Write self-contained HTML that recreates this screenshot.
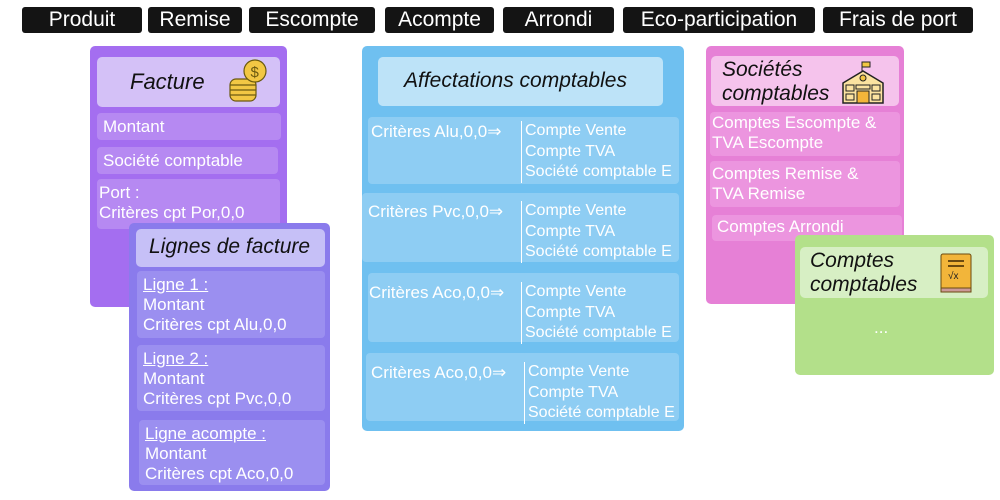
<!DOCTYPE html>
<html><head><meta charset="utf-8"><style>
body{margin:0;width:1000px;height:500px;background:#fff;position:relative;overflow:hidden;font-family:"Liberation Sans",sans-serif}
.a{position:absolute;box-sizing:border-box}
.tag{background:#141414;color:#fff;font-size:21px;border-radius:3px;top:7px;height:26px;line-height:26px;text-align:center}
.box{border-radius:5px}
.hd{border-radius:5px;font-family:"Liberation Sans",sans-serif;font-style:italic;color:#111;font-size:22px;white-space:nowrap}
.r{border-radius:4px;color:#fff;font-size:17px;line-height:20px;padding:4px 6px;white-space:nowrap}
.u{text-decoration:underline}
.bl{font-family:"Liberation Sans",sans-serif;font-size:16px;line-height:20.5px;color:#fff;white-space:nowrap}
</style></head><body>
<div class="a tag" style="left:22px;width:120px">Produit</div>
<div class="a tag" style="left:148px;width:94px">Remise</div>
<div class="a tag" style="left:249px;width:126px">Escompte</div>
<div class="a tag" style="left:385px;width:109px">Acompte</div>
<div class="a tag" style="left:503px;width:111px">Arrondi</div>
<div class="a tag" style="left:623px;width:192px">Eco-participation</div>
<div class="a tag" style="left:823px;width:150px">Frais de port</div>

<div class="a box" style="left:90px;top:46px;width:197px;height:261px;background:#a46ef0"></div>
<div class="a hd" style="left:97px;top:57px;width:183px;height:50px;background:#d4c1f7;padding:12px 0 0 33px">Facture</div>
<svg class="a" style="left:226px;top:57px" width="44" height="48"><g fill="#f2c744" stroke="#6b5a10" stroke-width="1.2"><rect x="4" y="22" width="26" height="22" rx="6"/><line x1="4" y1="28" x2="30" y2="28"/><line x1="4" y1="33" x2="30" y2="33"/><line x1="4" y1="38" x2="30" y2="38"/><circle cx="29" cy="14" r="11"/></g><text x="24.5" y="20" font-size="15" fill="#6b5a10">$</text></svg>
<div class="a r" style="left:97px;top:113px;width:184px;height:27px;background:#b689f2">Montant</div>
<div class="a r" style="left:97px;top:147px;width:181px;height:27px;background:#b689f2">Société comptable</div>
<div class="a r" style="left:97px;top:179px;width:183px;height:50px;background:#b689f2;padding-left:2px">Port :<br>Critères cpt Por,0,0</div>

<div class="a box" style="left:129px;top:223px;width:201px;height:268px;background:#8a7bec"></div>
<div class="a hd" style="left:136px;top:229px;width:189px;height:38px;background:#c6c0f7;padding:6px 0 0 13px;font-size:21px">Lignes de facture</div>
<div class="a r" style="left:137px;top:271px;width:188px;height:67px;background:#9b8ff0"><span class="u">Ligne 1 :</span><br>Montant<br>Critères cpt Alu,0,0</div>
<div class="a r" style="left:137px;top:345px;width:188px;height:66px;background:#9b8ff0"><span class="u">Ligne 2 :</span><br>Montant<br>Critères cpt Pvc,0,0</div>
<div class="a r" style="left:139px;top:420px;width:186px;height:65px;background:#9b8ff0"><span class="u">Ligne acompte :</span><br>Montant<br>Critères cpt Aco,0,0</div>

<div class="a box" style="left:362px;top:46px;width:322px;height:385px;background:#6fc0f0"></div>
<div class="a hd" style="left:378px;top:57px;width:285px;height:49px;background:#bde3f8;padding:12px 0 0 26px;font-size:21px">Affectations comptables</div>
<div class="a r" style="left:368px;top:117px;width:311px;height:67px;background:#8ecdf3"></div>
<div class="a r" style="left:362px;top:193px;width:317px;height:69px;background:#8ecdf3"></div>
<div class="a r" style="left:368px;top:273px;width:311px;height:69px;background:#8ecdf3"></div>
<div class="a r" style="left:366px;top:353px;width:313px;height:68px;background:#8ecdf3"></div>
<div class="a" style="left:371px;top:122px;color:#fff;font-size:17px">Critères Alu,0,0⇒</div>
<div class="a bl" style="left:521px;top:121px;border-left:1.5px solid #fff;padding-left:3px">Compte Vente<br>Compte TVA<br>Société comptable E</div>
<div class="a" style="left:368px;top:202px;color:#fff;font-size:17px">Critères Pvc,0,0⇒</div>
<div class="a bl" style="left:521px;top:201px;border-left:1.5px solid #fff;padding-left:3px">Compte Vente<br>Compte TVA<br>Société comptable E</div>
<div class="a" style="left:369px;top:283px;color:#fff;font-size:17px">Critères Aco,0,0⇒</div>
<div class="a bl" style="left:521px;top:282px;border-left:1.5px solid #fff;padding-left:3px">Compte Vente<br>Compte TVA<br>Société comptable E</div>
<div class="a" style="left:371px;top:363px;color:#fff;font-size:17px">Critères Aco,0,0⇒</div>
<div class="a bl" style="left:524px;top:362px;border-left:1.5px solid #fff;padding-left:3px">Compte Vente<br>Compte TVA<br>Société comptable E</div>

<div class="a box" style="left:706px;top:46px;width:198px;height:258px;background:#e680d6"></div>
<div class="a hd" style="left:711px;top:56px;width:188px;height:50px;background:#f5c3ec;padding:2px 0 0 11px;font-size:21px;line-height:24px">Sociétés<br>comptables</div>
<svg class="a" style="left:841px;top:61px" width="44" height="44"><rect x="21" y="1" width="8" height="5" fill="#f2c744" stroke="#222"/><line x1="21" y1="1" x2="21" y2="11" stroke="#222"/><path d="M2 22 L22 10 L42 22 V42 H2 Z" fill="#fbe3a0" stroke="#222" stroke-width="1.5"/><circle cx="22" cy="17" r="3" fill="#f2c744" stroke="#222"/><rect x="5" y="24" width="8" height="6" fill="none" stroke="#222"/><rect x="31" y="24" width="8" height="6" fill="none" stroke="#222"/><rect x="5" y="33" width="8" height="6" fill="none" stroke="#222"/><rect x="31" y="33" width="8" height="6" fill="none" stroke="#222"/><rect x="16" y="30" width="12" height="12" fill="#f2b53a" stroke="#222"/><rect x="15" y="24" width="14" height="4" fill="none" stroke="#222"/></svg>
<div class="a r" style="left:710px;top:112px;width:190px;height:44px;background:#ec95df;padding:1px 2px">Comptes Escompte &amp;<br>TVA Escompte</div>
<div class="a r" style="left:710px;top:161px;width:190px;height:46px;background:#ec95df;padding:3px 2px">Comptes Remise &amp;<br>TVA Remise</div>
<div class="a r" style="left:712px;top:215px;width:190px;height:26px;background:#ec95df;padding:2px 5px">Comptes Arrondi</div>

<div class="a box" style="left:795px;top:235px;width:199px;height:140px;background:#b3e08a"></div>
<div class="a hd" style="left:800px;top:247px;width:188px;height:51px;background:#d7efc4;padding:2px 0 0 10px;font-size:21px;line-height:24px">Comptes<br>comptables</div>
<svg class="a" style="left:938px;top:252px" width="36" height="44"><rect x="3" y="2" width="30" height="36" rx="2" fill="#f2b53a" stroke="#6b4a10"/><rect x="3" y="36" width="30" height="4" fill="#c99" stroke="#6b4a10"/><line x1="10" y1="9" x2="26" y2="9" stroke="#6b4a10" stroke-width="2"/><line x1="10" y1="14" x2="26" y2="14" stroke="#6b4a10" stroke-width="2"/><text x="10" y="27" font-size="10" fill="#222">√x</text></svg>
<div class="a" style="left:874px;top:318px;color:#fff;font-size:17px">...</div>
</body></html>
